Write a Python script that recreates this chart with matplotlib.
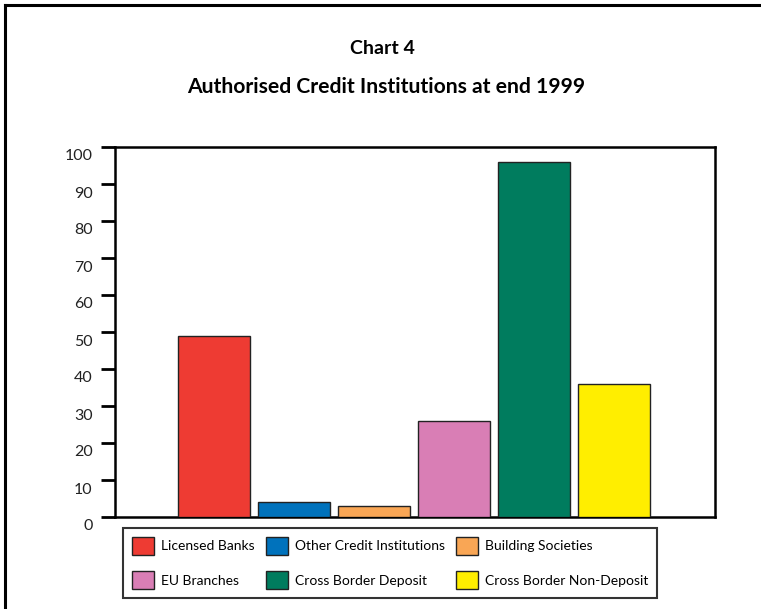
import matplotlib
matplotlib.use("Agg")
import matplotlib.pyplot as plt
from matplotlib.patches import Patch
from matplotlib.lines import Line2D
import matplotlib.transforms as mtransforms

categories = ["Licensed Banks", "Other Credit Institutions", "Building Societies",
              "EU Branches", "Cross Border Deposit", "Cross Border Non-Deposit"]
values = [49, 4, 3, 26, 96, 36]
colors = ["#EE3B33", "#0072BC", "#F9A655", "#D97EB5", "#007C5E", "#FFEE00"]
yticks = [0, 10, 20, 30, 40, 50, 60, 70, 80, 90, 100]

plt.rcParams['font.family'] = ['Lato', 'DejaVu Sans']

W, H = 761, 609
fig = plt.figure(figsize=(W / 100, H / 100), dpi=100)

# axes: left 115, right 715, top 147, bottom 517 (pixels)
ax = fig.add_axes([115 / W, 1 - 517 / H, 600 / W, 370 / H])
x = list(range(len(categories)))
ax.bar(x, values, width=0.9, color=colors, edgecolor="#222222", linewidth=1.0, zorder=3)
ax.set_xlim(-1.2375, 6.2625)
ax.set_ylim(0, 100)
ax.set_yticks(yticks)
ax.set_yticklabels([str(v) for v in yticks], fontsize=11.5, color="#222222")
ax.set_xticks([])
for s in ax.spines.values():
    s.set_linewidth(1.8)
    s.set_color("black")
ax.tick_params(axis="y", length=10, width=2, pad=6, direction="out")
offset = mtransforms.ScaledTranslation(0, -8 / 100, fig.dpi_scale_trans)
for lab in ax.get_yticklabels():
    lab.set_transform(lab.get_transform() + offset)

# titles
fig.text(382 / W, 1 - 48 / H, "Chart 4", ha="center", va="center",
         fontsize=14, fontweight="bold")
fig.text(386 / W, 1 - 87 / H, "Authorised Credit Institutions at end 1999",
         ha="center", va="center", fontsize=15.2, fontweight="bold")

# outer frame (top and left edges)
fig.add_artist(Line2D([5 / W, 1.0], [1 - 5 / H, 1 - 5 / H], transform=fig.transFigure,
                      color="black", linewidth=2.2))
fig.add_artist(Line2D([5 / W, 5 / W], [0, 1 - 5 / H], transform=fig.transFigure,
                      color="black", linewidth=2.2))

# legend (column-major ordering for 2 rows x 3 cols)
handles = [Patch(facecolor=c, edgecolor="#222222", linewidth=1.0) for c in colors]
order = [0, 3, 1, 4, 2, 5]
leg = fig.legend([handles[i] for i in order], [categories[i] for i in order],
                 ncol=3, loc="center", bbox_to_anchor=(390 / W, 1 - 563 / H),
                 fontsize=10, frameon=True, fancybox=False, edgecolor="black",
                 handlelength=1.6, handleheight=1.6, handletextpad=0.5,
                 columnspacing=0.8, labelspacing=1.2, borderpad=0.6)
leg.get_frame().set_linewidth(1.5)

fig.savefig("out.png", dpi=100, facecolor="white")
